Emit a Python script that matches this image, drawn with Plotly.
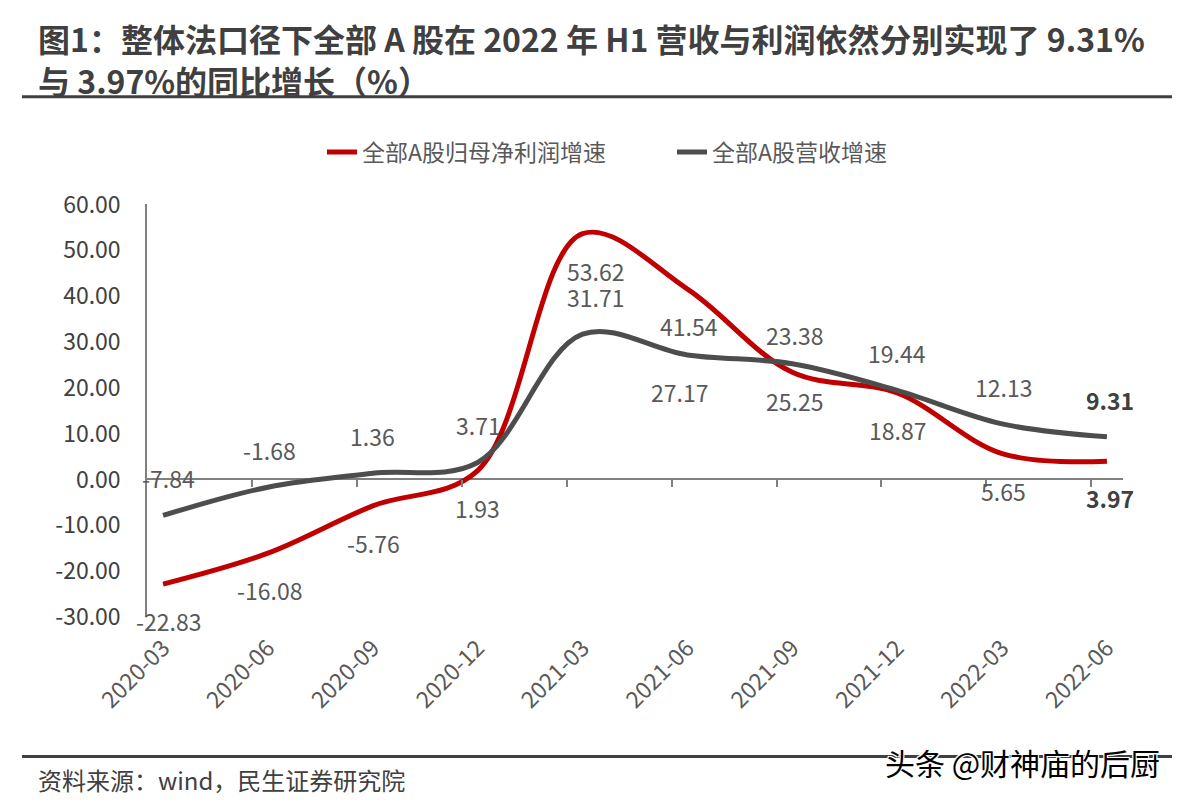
import plotly.graph_objects as go

categories = ["2020-03", "2020-06", "2020-09", "2020-12", "2021-03",
              "2021-06", "2021-09", "2021-12", "2022-03", "2022-06"]
profit_growth = [-22.83, -16.08, -5.76, 1.93, 53.62, 41.54, 23.38, 18.87, 5.65, 3.97]
revenue_growth = [-7.84, -1.68, 1.36, 3.71, 31.71, 27.17, 25.25, 19.44, 12.13, 9.31]
profit_name = "全部A股归母净利润增速"
revenue_name = "全部A股营收增速"
y_ticks = [-30, -20, -10, 0, 10, 20, 30, 40, 50, 60]

# label placement: +1 above the point, -1 below
profit_label_side = [-1, -1, -1, -1, -1, -1, 1, -1, -1, -1]
revenue_label_side = [1, 1, 1, 1, 1, -1, -1, 1, 1, 1]
profit_label_dx = [5, 2, 1, 0, 13, 2, 2, 0, 1, 3]
revenue_label_dx = [5, 2, 0, 1, 13, -8, 2, 0, 1, 3]

FONT = "Noto Sans CJK SC, Noto Sans, sans-serif"
RED = "#C00000"
GRAY = "#4D4D4D"
TXT = "#595959"

W, H = 1176, 797   # page body has an 8px margin
OFF = 8

x_idx = list(range(len(categories)))
n = len(categories)

fig = go.Figure()
fig.add_trace(go.Scatter(x=x_idx, y=profit_growth, name=profit_name, mode="lines",
                         line=dict(color=RED, width=5, shape="spline", smoothing=1.0)))
fig.add_trace(go.Scatter(x=x_idx, y=revenue_growth, name=revenue_name, mode="lines",
                         line=dict(color=GRAY, width=5, shape="spline", smoothing=1.0)))
# invisible trace to carry the small tick marks on the zero axis
fig.add_trace(go.Scatter(x=[x_idx[0]], y=[0], xaxis="x2", mode="markers",
                         marker=dict(opacity=0), showlegend=False, hoverinfo="skip"))

annotations = []
for i in range(n):
    last = i == n - 1
    for vals, side, dx in ((profit_growth, profit_label_side, profit_label_dx),
                           (revenue_growth, revenue_label_side, revenue_label_dx)):
        annotations.append(dict(
            x=x_idx[i], y=vals[i], xref="x", yref="y",
            text=(f"<b>{vals[i]:.2f}</b>" if last else f"{vals[i]:.2f}"),
            showarrow=False, yshift=37 * side[i], xshift=dx[i],
            font=dict(family=FONT, size=23, color="#404040" if last else TXT)))

title_lines = ["图1：整体法口径下全部 A 股在 2022 年 H1 营收与利润依然分别实现了 9.31%",
               "与 3.97%的同比增长（%）"]

PL, PR, PT, PB = 147, 1123, 203, 617   # plot area in reference pixels


def px_x(px):
    return (px - PL) / (PR - PL)


def px_y(py):
    return (PB - py) / (PB - PT)


fig.update_layout(
    width=W, height=H,
    margin=dict(l=PL - OFF, r=W - (PR - OFF), t=PT - OFF, b=H - (PB - OFF)),
    paper_bgcolor="white", plot_bgcolor="white",
    showlegend=True,
    legend=dict(orientation="h", x=(322 - OFF) / W, xanchor="left",
                y=1 - (152 - OFF) / H, yanchor="middle",
                xref="container", yref="container",
                font=dict(family=FONT, size=23, color=TXT),
                entrywidth=305, entrywidthmode="pixels",
                traceorder="normal"),
    xaxis=dict(range=[-0.153, 9.153], tickmode="array", tickvals=x_idx,
               ticktext=categories, tickangle=-45, showline=False, showgrid=False,
               zeroline=False, ticks="", ticklabelstandoff=12,
               tickfont=dict(family=FONT, size=23, color=TXT)),
    xaxis2=dict(overlaying="x", matches="x", anchor="free", position=1 / 3,
                side="bottom", tickmode="array",
                tickvals=[i + 0.85 for i in range(n - 1)],
                showticklabels=False, ticks="outside", ticklen=7, tickwidth=1.5,
                tickcolor="#808080", showline=False, showgrid=False, zeroline=False),
    yaxis=dict(range=[-30, 60], tickmode="array", tickvals=y_ticks,
               ticktext=[f"{v:.2f}" for v in y_ticks],
               showline=True, linecolor="#808080", linewidth=1.5,
               showgrid=False, zeroline=True, zerolinecolor="#808080", zerolinewidth=1.5,
               ticks="", ticklabelstandoff=20,
               tickfont=dict(family=FONT, size=23, color="#404040")),
    annotations=annotations,
    shapes=[
        dict(type="line", xref="paper", yref="paper", x0=px_x(22), x1=px_x(1172),
             y0=px_y(95), y1=px_y(95), line=dict(color="#404040", width=3)),
        dict(type="line", xref="paper", yref="paper", x0=px_x(22), x1=px_x(1172),
             y0=px_y(757), y1=px_y(757), line=dict(color="#404040", width=3)),
    ],
)

fig.add_annotation(x=px_x(36), y=px_y(57), xref="paper", yref="paper",
                   xanchor="left", yanchor="middle", align="left", showarrow=False,
                   text=f"<b>{title_lines[0]}<br>{title_lines[1]}</b>",
                   font=dict(family=FONT, size=32, color="#404040"))
fig.add_annotation(x=px_x(36), y=px_y(780), xref="paper", yref="paper",
                   xanchor="left", yanchor="middle", showarrow=False,
                   text="资料来源：wind，民生证券研究院",
                   font=dict(family=FONT, size=24, color="#404040"))
fig.add_annotation(x=px_x(1162), y=px_y(763), xref="paper", yref="paper",
                   xanchor="right", yanchor="middle", showarrow=False,
                   text="头条 @财神庙的后厨",
                   font=dict(family=FONT, size=30, color="black",
                             shadow="1px 1px 0 white, -1px -1px 0 white, 1px -1px 0 white, -1px 1px 0 white"))

fig.write_html("out.html")
